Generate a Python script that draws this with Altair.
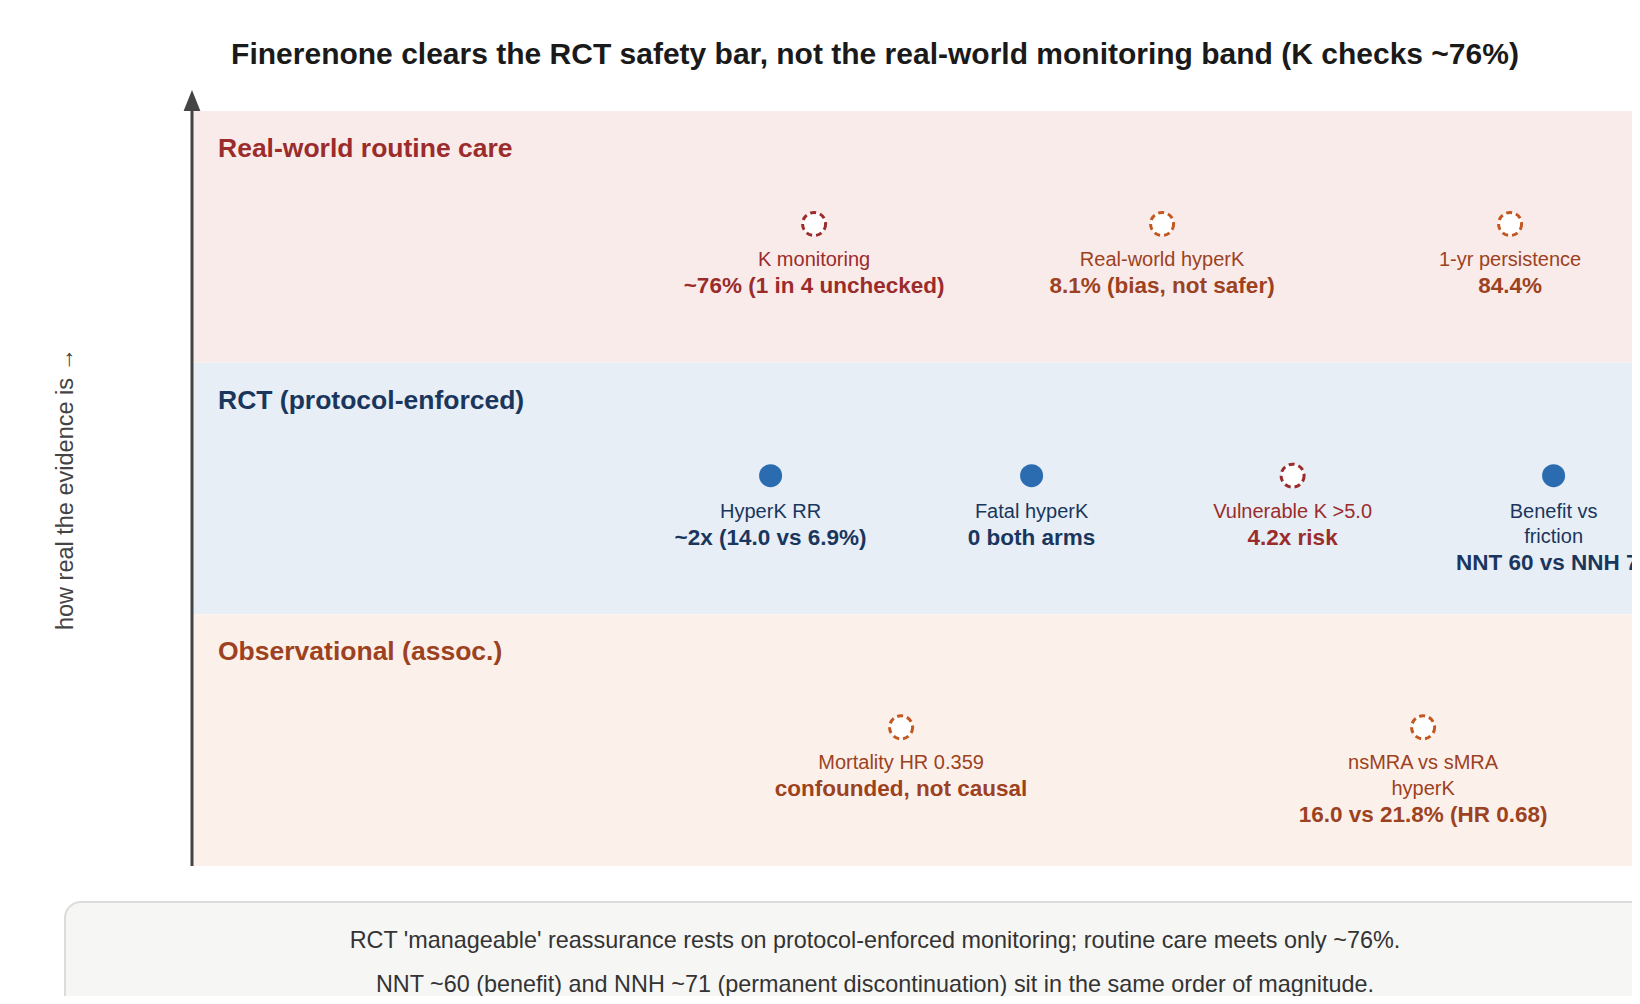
import pandas as pd
import altair as alt

# Evidence tiers (top to bottom) and their styling
tiers = ["Real-world routine care", "RCT (protocol-enforced)", "Observational (assoc.)"]
tier_level = [2, 1, 0]
tier_fill = ["#f9ebea", "#e7eef6", "#fcf0eb"]
tier_text = ["#9b2c2c", "#1a365d", "#9c4221"]

# Findings placed in each tier
item_tier = [
    "Real-world routine care", "Real-world routine care", "Real-world routine care",
    "RCT (protocol-enforced)", "RCT (protocol-enforced)", "RCT (protocol-enforced)", "RCT (protocol-enforced)",
    "Observational (assoc.)", "Observational (assoc.)",
]
item_label = [
    "K monitoring", "Real-world hyperK", "1-yr persistence",
    "HyperK RR", "Fatal hyperK", "Vulnerable K >5.0", "Benefit vs\nfriction",
    "Mortality HR 0.359", "nsMRA vs sMRA\nhyperK",
]
item_value = [
    "~76% (1 in 4 unchecked)", "8.1% (bias, not safer)", "84.4%",
    "~2x (14.0 vs 6.9%)", "0 both arms", "4.2x risk", "NNT 60 vs NNH 71",
    "confounded, not causal", "16.0 vs 21.8% (HR 0.68)",
]
item_tone = ["gap", "caveat", "caveat", "solid", "solid", "gap", "solid", "caveat", "caveat"]

tone_mark = {"gap": "#9b2c2c", "caveat": "#c4561f", "solid": "#2b6cb0"}
tone_text = {"gap": "#9b2c2c", "caveat": "#9c4221", "solid": "#1a365d"}

footnote = [
    "RCT 'manageable' reassurance rests on protocol-enforced monitoring; routine care meets only ~76%.",
    "NNT ~60 (benefit) and NNH ~71 (permanent discontinuation) sit in the same order of magnitude.",
]

title = "Finerenone clears the RCT safety bar, not the real-world monitoring band (K checks ~76%)"

# tables for the chart
level = dict(zip(tiers, tier_level))
bands = pd.DataFrame({"tier": tiers, "lo": tier_level, "fill": tier_fill, "ink": tier_text})
bands["hi"] = bands["lo"] + 1

items = pd.DataFrame({"tier": item_tier, "label": item_label, "value": item_value, "tone": item_tone})
items["slot"] = items.groupby("tier").cumcount()
items["n"] = items.groupby("tier")["tier"].transform("size")
items["xp"] = (items["slot"] + 0.5) / items["n"]
items["yp"] = items["tier"].map(level) + 0.551
items["mark_color"] = items["tone"].map(tone_mark)
items["text_color"] = items["tone"].map(tone_text)
items["nl"] = items["label"].str.count("\n") + 1

W, H = 1440, 755
FONT = "Liberation Sans"
LH = 25.5

y_axis = alt.Axis(
    title="how real the evidence is \u2192", labels=False, ticks=False, domain=False, grid=False,
    titleFontSize=23.5, titleFontWeight="normal", titleColor="#444", titleFont=FONT,
    titleX=-127, titleY=H / 2, titleBaseline="middle", titleAlign="center",
)
x_scale = alt.Scale(domain=[-0.4292, 0.9501], nice=False, zero=False)
y_scale = alt.Scale(domain=[0, 3], nice=False, zero=False)

band_rect = alt.Chart(bands).mark_rect().encode(
    x=alt.value(0), x2=alt.value("width"),
    y=alt.Y("lo:Q", scale=y_scale, axis=y_axis), y2="hi:Q",
    fill=alt.Fill("fill:N", scale=None),
)

band_label = alt.Chart(bands).mark_text(
    align="left", baseline="middle", fontSize=26.5, fontWeight="bold", dy=38
).encode(
    x=alt.value(26),
    y=alt.Y("hi:Q", scale=y_scale, axis=y_axis),
    text="tier:N",
    color=alt.Color("ink:N", scale=None),
)

one = pd.DataFrame({"k": [0]})
axis_line = alt.Chart(one).mark_rule(color="#444", strokeWidth=3).encode(
    x=alt.value(0), y=alt.value(-6), y2=alt.value(H)
)
axis_arrow = alt.Chart(one).mark_point(
    shape="M0,-1L0.8,1L-0.8,1Z", filled=True, color="#444", opacity=1, size=441
).encode(x=alt.value(0), y=alt.value(-10.5))

base = alt.Chart(items).encode(
    x=alt.X("xp:Q", scale=x_scale, axis=None),
    y=alt.Y("yp:Q", scale=y_scale, axis=y_axis),
)

solid_pts = base.transform_filter(alt.datum.tone == "solid").mark_circle(size=530, opacity=1).encode(
    color=alt.Color("mark_color:N", scale=None)
)
open_pts = base.transform_filter(alt.datum.tone != "solid").mark_point(
    shape="circle", size=531, fill="white", filled=False, opacity=1, strokeWidth=3, strokeDash=[6, 4]
).encode(
    stroke=alt.Stroke("mark_color:N", scale=None)
)

label_txt = base.mark_text(
    align="center", baseline="top", fontSize=20, lineBreak="\n", lineHeight=LH, dy=26
).encode(
    text="label:N",
    color=alt.Color("text_color:N", scale=None),
)

# bold value line goes right under however many label lines there are
value_layers = [
    base.transform_filter(alt.datum.nl == k).mark_text(
        align="center", baseline="top", fontSize=22.5, fontWeight="bold", dy=LH * (k + 1)
    ).encode(
        text="value:N",
        color=alt.Color("text_color:N", scale=None),
    )
    for k in sorted(items["nl"].unique())
]

note_df = pd.DataFrame({"note": ["\n".join(footnote)]})
note_box = alt.Chart(note_df).mark_rect(
    fill="#f6f6f5", stroke="#dcdcdc", strokeWidth=2, cornerRadius=16
).encode(x=alt.value(-127), x2=alt.value(1467), y=alt.value(791), y2=alt.value(940))
note_txt = alt.Chart(note_df).mark_text(
    align="center", baseline="top", fontSize=23.4, color="#333", lineBreak="\n", lineHeight=44
).encode(x=alt.value(683), y=alt.value(819), text="note:N")

chart = alt.layer(
    band_rect, band_label, axis_line, axis_arrow, open_pts, solid_pts, label_txt, *value_layers, note_box, note_txt
).properties(
    width=W,
    height=H,
    autosize=alt.AutoSizeParams(type="none"),
    padding={"left": 184, "top": 103, "right": 0, "bottom": 130},
    title=alt.TitleParams(
        title, fontSize=30, fontWeight="bold", color="#1a1a1a", anchor="middle", frame="group", dx=-37, offset=20
    ),
).configure(
    font=FONT
).configure_view(
    stroke=None
)

chart.save("out.html", embed_options={"renderer": "svg", "actions": False})
